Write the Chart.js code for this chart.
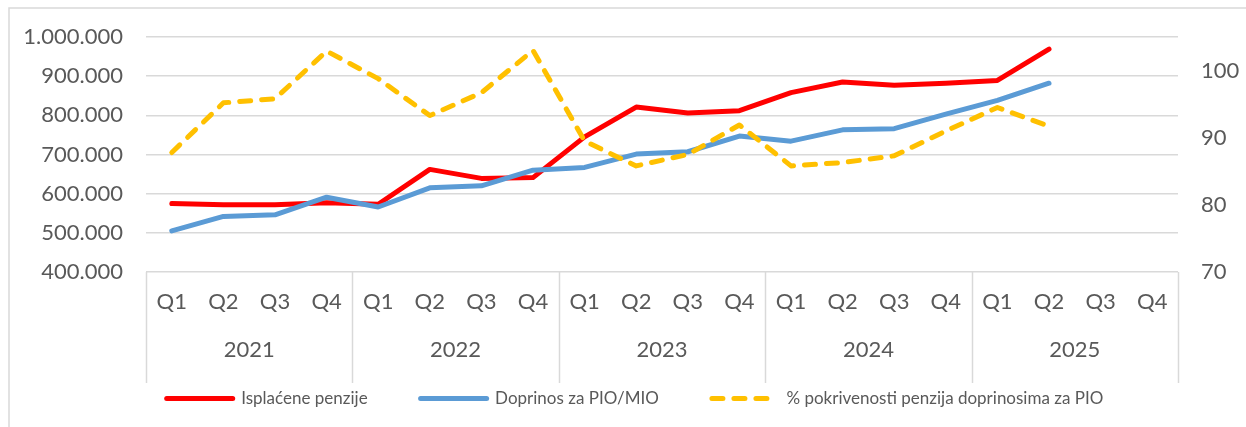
<!DOCTYPE html>
<html>
<head>
<meta charset="utf-8">
<script src="https://cdn.jsdelivr.net/npm/chart.js@4.4.1/dist/chart.umd.min.js"></script>
<style>
  html, body { margin: 0; padding: 0; background: #fff; }
  #wrap { width: 1246px; height: 427px; }
</style>
</head>
<body>
<div id="wrap"><canvas id="chart" width="1246" height="427"></canvas></div>
<script>
const quarters = ['Q1', 'Q2', 'Q3', 'Q4', 'Q1', 'Q2', 'Q3', 'Q4', 'Q1', 'Q2', 'Q3', 'Q4',
  'Q1', 'Q2', 'Q3', 'Q4', 'Q1', 'Q2', 'Q3', 'Q4'];
const years = ['2021', '2022', '2023', '2024', '2025'];

const isplacenePenzije = [575000, 572000, 572000, 577000, 573000, 662000, 639000, 641000,
  745000, 821000, 806000, 812000, 858000, 885000, 877000, 882000, 889000, 969000, null, null];
const doprinosPio = [505000, 542000, 546000, 591000, 566000, 615000, 620000, 660000,
  667000, 701000, 707000, 747000, 734000, 763000, 766000, 803000, 838000, 882000, null, null];
const pokrivenost = [87.8, 95.2, 95.8, 102.9, 98.8, 93.3, 96.7, 103.0,
  89.5, 85.8, 87.5, 91.9, 85.8, 86.3, 87.3, 91.0, 94.5, 91.7, null, null];

const leftTicks = [400000, 1000000, 100000];
const rightTicks = [70, 105, 10];

const textColor = '#595959';
const gridColor = '#D9D9D9';
const fontFamily = 'Lato, "Noto Sans", sans-serif';

const fmt = v => String(v).replace(/\B(?=(\d{3})+(?!\d))/g, '.');

// frame, year dividers under the plot, legend pulled up next to the axis
const decorations = {
  id: 'decorations',
  afterLayout(chart) {
    const lg = chart.legend;
    if (!lg) return;
    lg.top = chart.chartArea.bottom + 65;
    lg.height = 80;
    lg.bottom = lg.top + lg.height;
    lg.left += 12;
    lg.right += 12;
  },
  beforeDraw(chart) {
    const ctx = chart.ctx;
    ctx.save();
    ctx.fillStyle = '#fff';
    ctx.fillRect(0, 0, chart.width, chart.height);
    ctx.strokeStyle = gridColor;
    ctx.lineWidth = 1.5;
    ctx.strokeRect(9, 8, chart.width + 20, chart.height + 20);
    ctx.restore();
  },
  afterDraw(chart) {
    const ctx = chart.ctx;
    const x = chart.scales.x;
    const top = chart.chartArea.bottom;
    ctx.save();
    ctx.strokeStyle = gridColor;
    ctx.lineWidth = 1.5;
    for (let k = 0; k <= years.length; k++) {
      const px = Math.round(x.getPixelForValue(k * 4 - 0.5)) + 0.5;
      ctx.beginPath();
      ctx.moveTo(px, top);
      ctx.lineTo(px, top + 111);
      ctx.stroke();
    }
    ctx.restore();
  }
};

new Chart(document.getElementById('chart').getContext('2d'), {
  type: 'line',
  data: {
    labels: quarters,
    datasets: [
      {
        label: 'Isplaćene penzije',
        data: isplacenePenzije,
        yAxisID: 'y',
        borderColor: '#FF0000',
        backgroundColor: '#FF0000',
        borderWidth: 5,
        borderCapStyle: 'round',
        borderJoinStyle: 'round',
        pointRadius: 0,
        tension: 0,
        order: 2
      },
      {
        label: 'Doprinos za PIO/MIO',
        data: doprinosPio,
        yAxisID: 'y',
        borderColor: '#5B9BD5',
        backgroundColor: '#5B9BD5',
        borderWidth: 5,
        borderCapStyle: 'round',
        borderJoinStyle: 'round',
        pointRadius: 0,
        tension: 0,
        order: 1
      },
      {
        label: '% pokrivenosti penzija doprinosima za PIO',
        data: pokrivenost,
        yAxisID: 'y1',
        borderColor: '#FFC000',
        backgroundColor: '#FFC000',
        borderWidth: 5,
        borderDash: [11, 11],
        borderCapStyle: 'round',
        borderJoinStyle: 'round',
        pointRadius: 0,
        tension: 0,
        order: 0
      }
    ]
  },
  options: {
    responsive: false,
    animation: false,
    layout: { padding: { top: 37, left: 0, right: 0, bottom: 0 } },
    plugins: {
      legend: {
        position: 'bottom',
        maxHeight: 44,
        labels: {
          usePointStyle: true,
          pointStyle: 'line',
          pointStyleWidth: 66,
          padding: 53,
          color: textColor,
          font: { family: fontFamily, size: 17 },
          sort: (a, b) => a.datasetIndex - b.datasetIndex,
          generateLabels: chart => Chart.defaults.plugins.legend.labels.generateLabels(chart).map(item => {
            const ds = chart.data.datasets[item.datasetIndex];
            return {
              ...item,
              strokeStyle: ds.borderColor,
              fillStyle: ds.borderColor,
              lineWidth: ds.borderWidth,
              lineDash: ds.borderDash || [],
              lineCap: 'round'
            };
          })
        }
      },
      tooltip: { enabled: false }
    },
    scales: {
      x: {
        type: 'category',
        position: 'bottom',
        offset: true,
        grid: { display: false, drawTicks: false, offset: true },
        border: { display: false },
        ticks: { color: textColor, font: { family: fontFamily, size: 22 }, padding: 17, maxRotation: 0, autoSkip: false },
        afterFit: s => { s.height = 56; }
      },
      x2: {
        type: 'category',
        position: 'bottom',
        labels: years,
        offset: true,
        grid: { display: false, drawTicks: false },
        border: { display: false },
        ticks: { color: textColor, font: { family: fontFamily, size: 22 }, padding: 9, maxRotation: 0 },
        afterFit: s => { s.height = 55; }
      },
      y: {
        position: 'left',
        min: leftTicks[0],
        max: leftTicks[1],
        ticks: {
          stepSize: leftTicks[2],
          color: textColor,
          font: { family: fontFamily, size: 22 },
          padding: 23,
          callback: v => fmt(v)
        },
        grid: { color: gridColor, lineWidth: 1.5, drawTicks: false },
        border: { display: false },
        afterFit: s => { s.width = 146; }
      },
      y1: {
        position: 'right',
        min: rightTicks[0],
        max: rightTicks[1],
        ticks: {
          stepSize: rightTicks[2],
          color: textColor,
          font: { family: fontFamily, size: 22 },
          padding: 23
        },
        afterBuildTicks: s => { s.ticks = s.ticks.filter(t => t.value % 10 === 0); },
        grid: { drawOnChartArea: false, drawTicks: false, display: false },
        border: { display: false },
        afterFit: s => { s.width = 68; }
      }
    }
  },
  plugins: [decorations]
});
</script>
</body>
</html>
